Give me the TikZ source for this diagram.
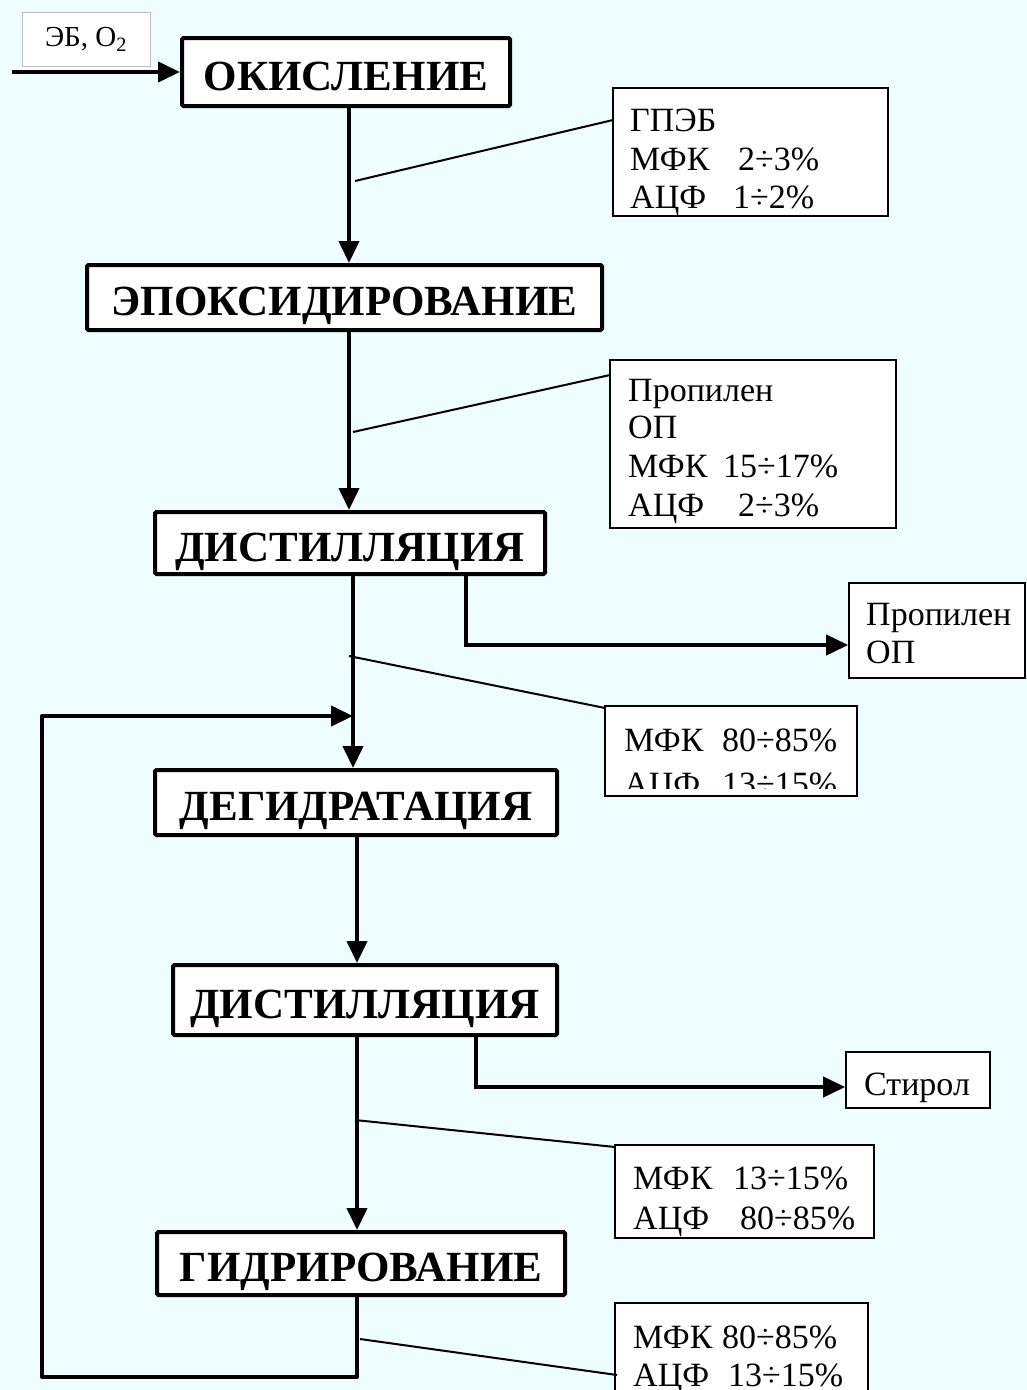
\documentclass[tikz,border=0pt]{standalone}
\usepackage{fontspec}
\setmainfont{Liberation Serif}
\usetikzlibrary{arrows.meta}
\definecolor{bg}{RGB}{238,253,255}
\begin{document}
\begin{tikzpicture}[x=1pt,y=-1pt,
  mainbox/.style={draw, line width=4pt, fill=white, rounded corners=1.5pt, inner sep=0pt,
    text height=36pt, text depth=0pt,
    font=\fontsize{43}{43}\selectfont\bfseries},
  infobox/.style={draw, line width=1.6pt, fill=white, inner sep=0pt},
  infotext/.style={anchor=base west, inner sep=0pt, font=\fontsize{34}{34}\selectfont},
  flow/.style={line width=4pt, -{Triangle[length=22pt,width=20pt]}},
  tap/.style={line width=2pt}]
\useasboundingbox (0,0) rectangle (1027,1390);
\fill[bg] (0,0) rectangle (1027,1390);
\clip (0,0) rectangle (1027,1390);

% column coordinates
\coordinate (xa) at (349,0);
\coordinate (xb) at (353,0);
\coordinate (xc) at (357,0);

% main boxes
\node[mainbox, minimum width=328pt, minimum height=68pt] (ok) at (346,72) {ОКИСЛЕНИЕ};
\node[mainbox, minimum width=515pt, minimum height=65pt] (ep) at (344.5,297.5) {ЭПОКСИДИРОВАНИЕ};
\node[mainbox, minimum width=390pt, minimum height=62pt] (d1) at (350,543) {ДИСТИЛЛЯЦИЯ};
\node[mainbox, minimum width=402pt, minimum height=65pt] (dg) at (356,802.5) {ДЕГИДРАТАЦИЯ};
\node[mainbox, minimum width=384pt, minimum height=70pt] (d2) at (365,1000) {ДИСТИЛЛЯЦИЯ};
\node[mainbox, minimum width=408pt, minimum height=63pt] (gd) at (361,1263.5) {ГИДРИРОВАНИЕ};

% input label
\node[draw=black!25, line width=0.8pt, fill=white, minimum width=128pt, minimum height=54pt,
  font=\fontsize{29}{29}\selectfont] (in) at (86,39) {ЭБ, O\textsubscript{2}};
\coordinate (src) at (12,72);
\draw[flow] (src) -- (src -| ok.west);

% info boxes
\node[infobox, minimum width=275pt, minimum height=128pt] (ib1) at (750.5,152) {};
\node[infobox, minimum width=286pt, minimum height=168pt] (ib2) at (753,444) {};
\node[infobox, minimum width=176pt, minimum height=95pt] (pr) at (937,630.5) {};
\node[infobox, minimum width=252pt, minimum height=90pt] (ib3) at (731,751) {};
\node[infobox, minimum width=144pt, minimum height=56pt] (st) at (918,1080) {};
\node[infobox, minimum width=259pt, minimum height=93pt] (ib4) at (744.5,1191.5) {};
\node[infobox, minimum width=253pt, minimum height=97pt] (ib5) at (741.5,1351.5) {};

% info texts
\node[infotext] (t11) at (630,131) {ГПЭБ};
\node[infotext] (t12) at (630,170) {\makebox[108pt][l]{МФК}2÷3\%};
\node[infotext] (t13) at (630,208) {\makebox[103pt][l]{АЦФ}1÷2\%};

\node[infotext] (t21) at (628,401) {Пропилен};
\node[infotext] (t22) at (628,438) {ОП};
\node[infotext] (t23) at (628,477) {\makebox[95pt][l]{МФК}15÷17\%};
\node[infotext] (t24) at (628,516) {\makebox[110pt][l]{АЦФ}2÷3\%};

\node[infotext] (tp1) at (866,625) {Пропилен};
\node[infotext] (tp2) at (866,663) {ОП};

\begin{scope}
\clip (ib3.north west) rectangle ([yshift=8pt]ib3.south east);
\node[infotext] (t31) at (624,751) {\makebox[98pt][l]{МФК}80÷85\%};
\node[infotext] (t32) at (624,795) {\makebox[98pt][l]{АЦФ}13÷15\%};
\end{scope}

\node[infotext] (ts) at (864,1095) {Стирол};

\node[infotext] (t41) at (633,1189) {\makebox[100pt][l]{МФК}13÷15\%};
\node[infotext] (t42) at (633,1229) {\makebox[107pt][l]{АЦФ}80÷85\%};

\node[infotext] (t51) at (633,1348) {\makebox[89pt][l]{МФК}80÷85\%};
\node[infotext] (t52) at (633,1386) {\makebox[95pt][l]{АЦФ}13÷15\%};

% main flow
\draw[flow] (xa |- ok.south) -- (xa |- ep.north);
\draw[flow] (xa |- ep.south) -- (xa |- d1.north);
\draw[flow] (xb |- d1.south) -- (xb |- dg.north);
\draw[flow] (xc |- dg.south) -- (xc |- d2.north);
\draw[flow] (xc |- d2.south) -- (xc |- gd.north);

% side products
\coordinate (b1) at (466,645);
\draw[flow] (b1 |- d1.south) -- (b1) -- (b1 -| pr.west);
\coordinate (b2) at (476,1087);
\draw[flow] (b2 |- d2.south) -- (b2) -- (b2 -| st.west);

% recycle loop
\coordinate (l1) at (357,1377);
\coordinate (l2) at (42,1377);
\coordinate (l3) at (42,716);
\coordinate (l4) at (353,716);
\draw[line width=4pt, line join=round] (xc |- gd.south) -- (l1) -- (l2) -- (l3)
  -- ([xshift=-20pt]l4);
\draw[flow] ([xshift=-22pt]l4) -- (l4);

% composition taps
\coordinate (p1) at (355,181); \coordinate (q1) at (613,120);
\coordinate (p2) at (353,432); \coordinate (q2) at (610,375);
\coordinate (p3) at (349,656); \coordinate (q3) at (605,708);
\coordinate (p4) at (355,1120); \coordinate (q4) at (615,1147);
\coordinate (p5) at (360,1339); \coordinate (q5) at (617,1375);
\draw[tap] (p1) -- (q1);
\draw[tap] (p2) -- (q2);
\draw[tap] (p3) -- (q3);
\draw[tap] (p4) -- (q4);
\draw[tap] (p5) -- (q5);
\end{tikzpicture}
\end{document}
